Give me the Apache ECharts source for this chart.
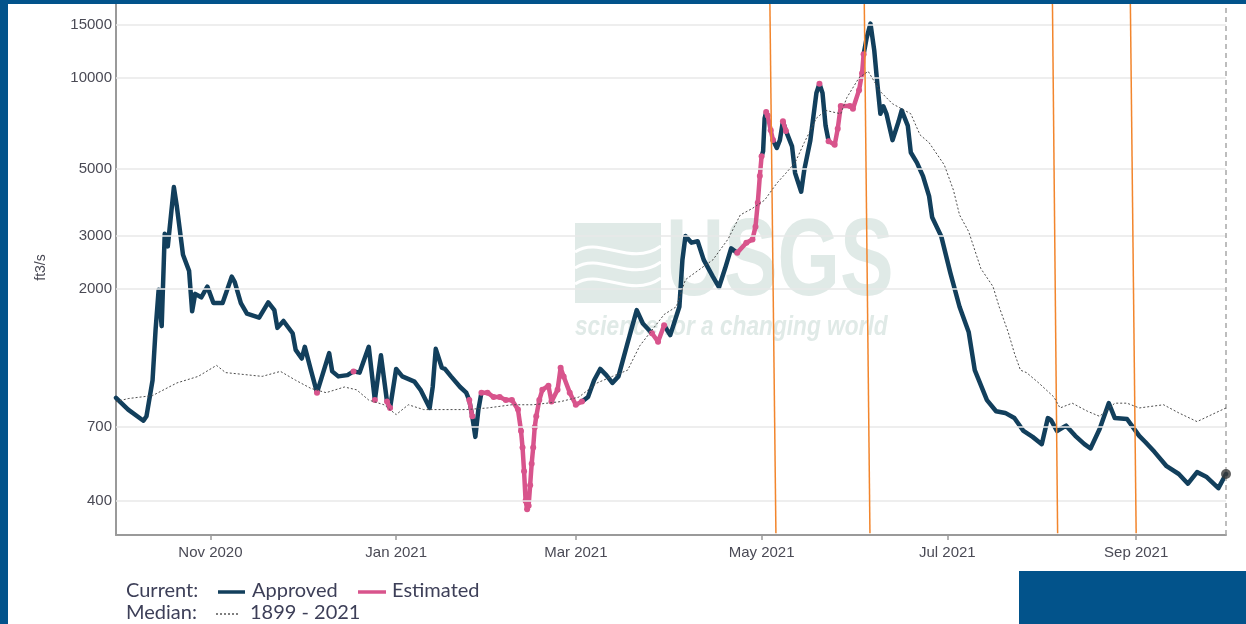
<!DOCTYPE html>
<html>
<head>
<meta charset="utf-8">
<title>Streamflow, water year 2021</title>
<script src="https://cdn.jsdelivr.net/npm/echarts@6/dist/echarts.min.js"></script>
<style>
  html, body { margin: 0; padding: 0; background: #fff; }
  #chart { width: 1246px; height: 624px; }
</style>
</head>
<body>
<div id="chart"></div>
<script>
// Daily discharge, current water year (ft3/s); status A = approved, E = estimated
const flowDates = [
  '2020-10-01','2020-10-05','2020-10-10','2020-10-11','2020-10-13','2020-10-14','2020-10-15','2020-10-16',
  '2020-10-17','2020-10-18','2020-10-20','2020-10-21','2020-10-23','2020-10-25','2020-10-26','2020-10-27',
  '2020-10-29','2020-10-31','2020-11-02','2020-11-05','2020-11-08','2020-11-09','2020-11-11','2020-11-13',
  '2020-11-17','2020-11-20','2020-11-22','2020-11-23','2020-11-25','2020-11-28','2020-11-29','2020-12-01',
  '2020-12-02','2020-12-04','2020-12-06','2020-12-10','2020-12-11','2020-12-13','2020-12-16','2020-12-18',
  '2020-12-20','2020-12-23','2020-12-25','2020-12-27','2020-12-29','2020-12-30','2021-01-01','2021-01-03',
  '2021-01-07','2021-01-09','2021-01-12','2021-01-13','2021-01-14','2021-01-16','2021-01-17','2021-01-19',
  '2021-01-22','2021-01-24','2021-01-25','2021-01-26','2021-01-27','2021-01-28','2021-01-29','2021-01-31',
  '2021-02-02','2021-02-04','2021-02-06','2021-02-08','2021-02-10','2021-02-11','2021-02-11T12:00','2021-02-12',
  '2021-02-12T12:00','2021-02-13','2021-02-13T12:00','2021-02-14','2021-02-14T12:00','2021-02-15','2021-02-15T12:00','2021-02-16',
  '2021-02-17','2021-02-18','2021-02-20','2021-02-21','2021-02-23','2021-02-24','2021-02-25','2021-02-27',
  '2021-03-01','2021-03-03','2021-03-05','2021-03-07','2021-03-09','2021-03-11','2021-03-13','2021-03-15',
  '2021-03-18','2021-03-21','2021-03-23','2021-03-26','2021-03-28','2021-03-30','2021-04-01','2021-04-04',
  '2021-04-05','2021-04-06','2021-04-08','2021-04-10','2021-04-12','2021-04-15','2021-04-17','2021-04-19',
  '2021-04-21','2021-04-23','2021-04-26','2021-04-28','2021-04-29','2021-04-29T18:00','2021-04-30T10:00','2021-05-01',
  '2021-05-01T12:00','2021-05-02','2021-05-02T12:00','2021-05-03','2021-05-04','2021-05-04T18:00','2021-05-06','2021-05-07',
  '2021-05-08','2021-05-09','2021-05-11','2021-05-12','2021-05-14','2021-05-15','2021-05-17','2021-05-19',
  '2021-05-20','2021-05-21','2021-05-22','2021-05-23','2021-05-25','2021-05-26','2021-05-27','2021-05-30',
  '2021-05-31','2021-06-02','2021-06-03','2021-06-03T12:00','2021-06-04T12:00','2021-06-05T18:00','2021-06-07','2021-06-08',
  '2021-06-09','2021-06-10','2021-06-11','2021-06-13','2021-06-15','2021-06-16','2021-06-18','2021-06-19',
  '2021-06-21','2021-06-23','2021-06-25','2021-06-26','2021-06-29','2021-07-02','2021-07-05','2021-07-08',
  '2021-07-10','2021-07-14','2021-07-17','2021-07-20','2021-07-23','2021-07-26','2021-07-29','2021-08-01',
  '2021-08-03','2021-08-04','2021-08-06','2021-08-09','2021-08-12','2021-08-15','2021-08-17','2021-08-20',
  '2021-08-23','2021-08-25','2021-08-29','2021-09-02','2021-09-04','2021-09-07','2021-09-11','2021-09-15',
  '2021-09-18','2021-09-21','2021-09-24','2021-09-28','2021-09-30T12:00'
];
const flowValues = [
  875, 800, 735, 760, 1000, 1470, 1990, 1510,
  3050, 2770, 4350, 3740, 2600, 2300, 1690, 1930,
  1880, 2040, 1800, 1800, 2200, 2110, 1800, 1660,
  1610, 1810, 1705, 1490, 1570, 1430, 1260, 1180,
  1290, 1080, 910, 1230, 1070, 1030, 1040, 1070,
  1060, 1290, 860, 1210, 850, 810, 1090, 1030,
  990, 930, 810, 950, 1270, 1100, 1090, 1030,
  950, 910, 860, 760, 650, 800, 910, 910,
  880, 880, 860, 860, 800, 680, 600, 500,
  400, 375, 385, 450, 530, 600, 700, 760,
  860, 930, 960, 850, 930, 1100, 1030, 910,
  830, 850, 880, 1000, 1090, 1040, 980, 1030,
  1330, 1705, 1540, 1430, 1340, 1520, 1410, 1750,
  2500, 3000, 2850, 2880, 2500, 2200, 2030, 2340,
  2730, 2640, 2850, 2920, 3220, 3860, 4730, 5500,
  5720, 7350, 7700, 7500, 6700, 6220, 5860, 6220,
  7180, 6670, 5930, 4840, 4200, 4950, 6200, 8900,
  9550, 8900, 6950, 6170, 6000, 6780, 8060, 8060,
  7900, 9100, 10350, 11950, 13550, 15100, 12300, 9570,
  7600, 8050, 7600, 6220, 7180, 7800, 6950, 5660,
  5240, 4730, 4060, 3460, 2990, 2260, 1750, 1445,
  1080, 860, 790, 780, 750, 680, 650, 615,
  750, 740, 680, 708, 655, 615, 595, 690,
  840, 750, 745, 655, 625, 580, 520, 490,
  455, 497, 480, 440, 490
];
const flowStatus = [
  'A','A','A','A','A','A','A','A',
  'A','A','A','A','A','A','A','A',
  'A','A','A','A','A','A','A','A',
  'A','A','A','A','A','A','A','A',
  'A','A','E','A','A','A','A','E',
  'A','A','E','A','E','E','A','A',
  'A','A','A','A','A','A','A','A',
  'A','A','E','E','A','A','E','E',
  'E','E','E','E','E','E','E','E',
  'E','E','E','E','E','E','E','E',
  'E','E','E','E','E','E','E','E',
  'E','E','A','A','A','A','A','A',
  'A','A','A','E','E','E','A','A',
  'A','A','A','A','A','A','A','A',
  'A','E','E','E','E','E','E','E',
  'A','A','E','E','E','E','A','A',
  'E','E','A','A','A','A','A','A',
  'E','A','A','E','E','E','E','E',
  'E','E','E','E','A','A','A','A',
  'A','A','A','A','A','A','A','A',
  'A','A','A','A','A','A','A','A',
  'A','A','A','A','A','A','A','A',
  'A','A','A','A','A','A','A','A',
  'A','A','A','A','A','A','A','A',
  'A','A','A','A','A'
];

// Daily median discharge, 1899 - 2021 (ft3/s)
const medianDates = [
  '2020-10-01','2020-10-05','2020-10-13','2020-10-21','2020-10-28','2020-11-03','2020-11-06','2020-11-14',
  '2020-11-18','2020-11-24','2020-11-29','2020-12-04','2020-12-09','2020-12-15','2020-12-19','2020-12-23',
  '2020-12-28','2021-01-01','2021-01-05','2021-01-10','2021-01-17','2021-01-24','2021-01-31','2021-02-08',
  '2021-02-15','2021-02-24','2021-03-02','2021-03-08','2021-03-13','2021-03-18','2021-03-22','2021-03-30',
  '2021-04-03','2021-04-06','2021-04-11','2021-04-15','2021-04-20','2021-04-24','2021-04-28','2021-05-02',
  '2021-05-06','2021-05-09','2021-05-12','2021-05-15','2021-05-19','2021-05-22','2021-05-27','2021-05-29',
  '2021-06-02','2021-06-05','2021-06-09','2021-06-13','2021-06-19','2021-06-22','2021-06-25','2021-06-30',
  '2021-07-03','2021-07-05','2021-07-08','2021-07-12','2021-07-16','2021-07-18','2021-07-21','2021-07-23',
  '2021-07-25','2021-07-27','2021-07-31','2021-08-05','2021-08-07','2021-08-11','2021-08-16','2021-08-20',
  '2021-08-25','2021-08-29','2021-09-02','2021-09-10','2021-09-15','2021-09-21','2021-09-27','2021-09-30T12:00'
];
const medianValues = [
  850, 870, 890, 980, 1030, 1120, 1060, 1040,
  1030, 1070, 1000, 940, 910, 950, 930, 860,
  830, 770, 830, 800, 800, 800, 810, 830,
  830, 850, 880, 980, 1030, 1080, 1300, 1650,
  1750, 2150, 2340, 2500, 2930, 3520, 3700, 3940,
  4480, 4840, 5240, 6100, 7350, 7800, 7600, 8600,
  10000, 10500, 9000, 8200, 7600, 6480, 6100, 5150,
  4250, 3520, 3100, 2340, 2040, 1750, 1440, 1230,
  1080, 1060, 980, 880, 810, 840, 790, 760,
  840, 840, 810, 830, 780, 730, 780, 810
];

// Axis ticks
const yTickValues = [400, 700, 2000, 3000, 5000, 10000, 15000];
const xTickMonths = [0, 2, 4, 6, 8, 10];   // Jan, Mar, May, Jul, Sep, Nov
const monthNames = ['Jan','Feb','Mar','Apr','May','Jun','Jul','Aug','Sep','Oct','Nov','Dec'];

// Vertical reference marks (start at top, end at bottom of the plot)
const markerStarts = ['2021-05-03T17:00', '2021-06-03T17:00', '2021-08-04T12:00', '2021-08-30T02:00'];
const markerEnds   = ['2021-05-05T17:00', '2021-06-05T14:00', '2021-08-06T05:00', '2021-09-01T00:00'];

const X_MIN = '2020-10-01';
const X_MAX = '2021-09-30T12:00';
const Y_MIN = 308;
const Y_MAX = 18070;

const NAVY = '#123f5c';
const PINK = '#d8548c';
const FRAME = '#02538b';

function toTime(s) {
  const [d, t] = s.split('T');
  const [y, m, day] = d.split('-').map(Number);
  let hh = 0, mm = 0;
  if (t) { [hh, mm] = t.split(':').map(Number); }
  return new Date(y, m - 1, day, hh, mm).getTime();
}

function isMonthTick(v) {
  const d = new Date(v);
  return d.getDate() === 1 && d.getHours() === 0 && xTickMonths.indexOf(d.getMonth()) >= 0;
}

// Split the record into approved and estimated runs; approved runs reach one
// point into neighbouring estimated runs so the trace stays continuous.
const approvedData = flowDates.map((d, i) => {
  const near = flowStatus[i] === 'A' || flowStatus[i - 1] === 'A' || flowStatus[i + 1] === 'A';
  return [toTime(d), near ? flowValues[i] : null];
});
const estimatedData = flowDates.map((d, i) => [toTime(d), flowStatus[i] === 'E' ? flowValues[i] : null]);
const medianData = medianDates.map((d, i) => [toTime(d), medianValues[i]]);
const lastIdx = flowDates.length - 1;

const chart = echarts.init(document.getElementById('chart'), null, { renderer: 'canvas' });

const option = {
  animation: false,
  backgroundColor: '#ffffff',
  grid: { left: 116, right: 20, top: 0, bottom: 89, containLabel: false, outerBoundsMode: 'none' },
  xAxis: {
    type: 'time',
    min: toTime(X_MIN),
    max: toTime(X_MAX),
    splitNumber: 6,
    axisLine: { show: true, lineStyle: { color: '#9a9a9a', width: 2 } },
    axisTick: { show: true, length: 5, lineStyle: { color: '#9a9a9a', width: 1.5 } },
    axisLabel: {
      show: true, margin: 10, fontSize: 15, color: '#4a4a55', fontFamily: 'Liberation Sans, Arial, sans-serif',
      hideOverlap: false,
      formatter: (v) => {
        if (!isMonthTick(v)) return '';
        const d = new Date(v);
        return monthNames[d.getMonth()] + ' ' + d.getFullYear();
      }
    },
    splitLine: { show: false }
  },
  yAxis: {
    type: 'log',
    logBase: 10,
    min: Y_MIN,
    max: Y_MAX,
    name: 'ft3/s',
    nameLocation: 'middle',
    nameGap: 68,
    nameRotate: 90,
    nameTextStyle: { fontSize: 14, color: '#4a4a55', fontFamily: 'Liberation Sans, Arial, sans-serif' },
    axisLine: { show: true, lineStyle: { color: '#9a9a9a', width: 2 } },
    axisTick: { show: false },
    axisLabel: { show: false },
    splitLine: { show: false }
  },
  graphic: [
    // watermark
    { type: 'group', z: 0, silent: true, children: [
      { type: 'rect', shape: { x: 575, y: 223, width: 86, height: 80 }, style: { fill: '#e0eae7' } },
      { type: 'bezierCurve', shape: { x1: 575, y1: 252, cpx1: 600, cpy1: 235, cpx2: 630, cpy2: 268, x2: 661, y2: 246 },
        style: { stroke: '#ffffff', lineWidth: 3, fill: null } },
      { type: 'bezierCurve', shape: { x1: 575, y1: 268, cpx1: 600, cpy1: 251, cpx2: 630, cpy2: 284, x2: 661, y2: 262 },
        style: { stroke: '#ffffff', lineWidth: 3, fill: null } },
      { type: 'bezierCurve', shape: { x1: 575, y1: 284, cpx1: 600, cpy1: 267, cpx2: 630, cpy2: 300, x2: 661, y2: 278 },
        style: { stroke: '#ffffff', lineWidth: 3, fill: null } },
      { type: 'text', x: 666, y: 265, scaleX: 0.73,
        style: { text: 'USGS', font: 'bold 110px "Liberation Sans", Arial, sans-serif', fill: '#e0eae7',
                 align: 'left', verticalAlign: 'middle' } },
      { type: 'text', x: 575, y: 328, scaleX: 0.84,
        style: { text: 'science for a changing world', font: 'italic bold 27px "Liberation Sans", Arial, sans-serif',
                 fill: '#e0eae7', align: 'left', verticalAlign: 'middle' } }
    ]},
    // legend
    { type: 'group', z: 50, silent: true, children: [
      { type: 'text', x: 126, y: 591, style: { text: 'Current:', font: '20px Lato, sans-serif', fill: '#3d3f58', verticalAlign: 'middle' } },
      { type: 'line', shape: { x1: 218, y1: 592, x2: 245, y2: 592 }, style: { stroke: NAVY, lineWidth: 3.5 } },
      { type: 'text', x: 252, y: 591, style: { text: 'Approved', font: '20px Lato, sans-serif', fill: '#3d3f58', verticalAlign: 'middle' } },
      { type: 'line', shape: { x1: 358, y1: 592, x2: 386, y2: 592 }, style: { stroke: PINK, lineWidth: 3.5 } },
      { type: 'text', x: 392, y: 591, style: { text: 'Estimated', font: '20px Lato, sans-serif', fill: '#3d3f58', verticalAlign: 'middle' } },
      { type: 'text', x: 126, y: 613, style: { text: 'Median:', font: '20px Lato, sans-serif', fill: '#3d3f58', verticalAlign: 'middle' } },
      { type: 'line', shape: { x1: 216, y1: 614, x2: 240, y2: 614 }, style: { stroke: '#555', lineWidth: 1.5, lineDash: [2, 2] } },
      { type: 'text', x: 250, y: 613, style: { text: '1899 - 2021', font: '20px Lato, sans-serif', fill: '#3d3f58', verticalAlign: 'middle' } }
    ]},
    // frame
    { type: 'rect', z: 100, silent: true, shape: { x: 0, y: 0, width: 8, height: 624 }, style: { fill: FRAME } },
    { type: 'rect', z: 100, silent: true, shape: { x: 0, y: 0, width: 1246, height: 4 }, style: { fill: FRAME } },
    { type: 'rect', z: 100, silent: true, shape: { x: 1019, y: 571, width: 227, height: 53 }, style: { fill: FRAME } }
  ],
  series: [
    {
      name: 'gridlines', type: 'line', data: [], z: 1, silent: true,
      markLine: {
        silent: true, symbol: ['none', 'none'], animation: false,
        lineStyle: { color: '#e8e8e8', width: 1.5, type: 'solid' },
        label: { show: true, position: 'start', distance: 4, color: '#4a4a55', fontSize: 15,
                 fontFamily: 'Liberation Sans, Arial, sans-serif', formatter: (p) => String(p.value) },
        data: yTickValues.map(v => ({ yAxis: v })).concat([{
          xAxis: toTime(X_MAX), label: { show: false },
          lineStyle: { color: '#a8a8a8', width: 1.5, type: [5, 4] }
        }])
      }
    },
    {
      name: 'Approved', type: 'line', data: approvedData, z: 3, connectNulls: false,
      showSymbol: false, symbol: 'none',
      lineStyle: { color: NAVY, width: 4.5, cap: 'round', join: 'round' }
    },
    {
      name: 'Estimated', type: 'line', data: estimatedData, z: 4, connectNulls: false,
      showSymbol: true, symbol: 'circle', symbolSize: 6,
      itemStyle: { color: PINK, borderWidth: 0 },
      lineStyle: { color: PINK, width: 4.5, cap: 'round', join: 'round' }
    },
    {
      name: 'Median', type: 'line', data: medianData, z: 5,
      showSymbol: false, symbol: 'none',
      lineStyle: { color: '#4d4d4d', width: 1, type: [2, 2] }
    },
    {
      name: 'Latest', type: 'scatter', z: 6, symbol: 'circle', symbolSize: 10,
      itemStyle: { color: '#3a3a3a' },
      data: [[toTime(flowDates[lastIdx]), flowValues[lastIdx]]]
    },
    {
      name: 'marks', type: 'line', data: [], z: 8, silent: true,
      markLine: {
        silent: true, symbol: ['none', 'none'], animation: false,
        label: { show: false },
        lineStyle: { color: '#f2852c', width: 1.5, type: 'solid' },
        data: markerStarts.map((s, i) => [
          { coord: [toTime(s), Y_MAX] },
          { coord: [toTime(markerEnds[i]), 312] }
        ])
      }
    }
  ]
};

chart.setOption(option);
</script>
</body>
</html>
